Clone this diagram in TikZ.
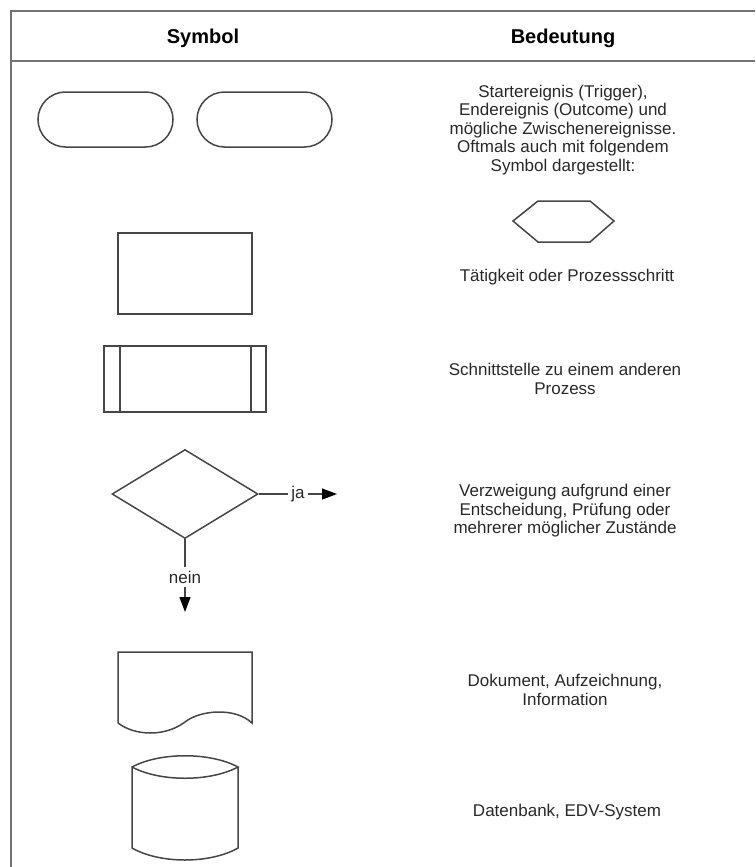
\documentclass[tikz,border=0pt]{standalone}
\usepackage{fontspec}
\setmainfont{Liberation Sans}
\usepackage{tikz}
\usetikzlibrary{arrows.meta,positioning,shapes.geometric,shapes.misc}
\definecolor{framegray}{RGB}{115,115,115}
\definecolor{shapegray}{RGB}{70,70,70}
\definecolor{txtgray}{RGB}{40,40,40}

\begin{document}
\begin{tikzpicture}[x=1pt, y=-1pt,
  every node/.style={font=\fontsize{17}{18.5}\selectfont, text=txtgray},
  sym/.style={draw=shapegray, line width=1.5pt, inner sep=0pt},
  desc/.style={align=center},
  head/.style={font=\bfseries\fontsize{20}{22}\selectfont, text=black},
  arr/.style={draw=shapegray, line width=1.3pt, -{Triangle[length=15pt,width=11pt,color=black]}}]
  \useasboundingbox (0,0) rectangle (755,867);
  \draw[framegray, line width=2pt] (755,11) -- (11,11) -- (11,867);
  \draw[framegray, line width=2pt] (11,61) -- (755,61);
  \node[head] (hsym) at (203,38) {Symbol};
  \node[head] (hbed) at (563,38) {Bedeutung};

  \foreach \cx [count=\i] in {105.5,264.5} {
    \node[sym, rounded rectangle, minimum width=135, minimum height=55] (term\i) at (\cx,119.5) {};
  }
  \draw[sym] (513,221) -- (538,201) -- (590,201) -- (614,221) -- (590,242) -- (538,242) -- cycle;
  \node[desc] (tevent) at (563,130) {Startereignis (Trigger),\\Endereignis (Outcome) und\\mögliche Zwischenereignisse.\\Oftmals auch mit folgendem\\Symbol dargestellt:};

  \node[sym, minimum width=134, minimum height=81] (task) at (185,273.5) {};
  \node[desc] (ttask) at (567,277) {Tätigkeit oder Prozessschritt};

  \node[sym, minimum width=162, minimum height=66] (iface) at (185,379) {};
  \draw[sym] ([xshift=16.5]iface.north west) -- ([xshift=16.5]iface.south west);
  \draw[sym] ([xshift=-16]iface.north east) -- ([xshift=-16]iface.south east);
  \node[desc] (tiface) at (565,379) {Schnittstelle zu einem anderen\\Prozess};

  \node[sym, diamond, minimum width=146, minimum height=89] (dec) at (185,494) {};
  \node (ja) at (298,494) {ja};
  \node (nein) at (185,577) {nein};
  \coordinate (jaend) at (337,494);
  \coordinate (neinend) at (185,612);
  \draw[sym] (dec.east) -- (ja.west);
  \draw[arr] (ja.east) -- (jaend);
  \draw[sym] (dec.south) -- (nein.north);
  \draw[arr] (nein.south) -- (neinend);
  \node[desc] (tdec) at (565,511) {Verzweigung aufgrund einer\\Entscheidung, Prüfung oder\\mehrerer möglicher Zustände};

  \draw[sym] (118,723) -- (118,652) -- (252,652) -- (252,723)
    .. controls (235,707) and (200,710) .. (185,722)
    .. controls (165,737) and (135,736) .. (118,723);
  \node[desc] (tdoc) at (565,690) {Dokument, Aufzeichnung,\\Information};

  \draw[sym] (132,767) .. controls (160,752) and (210,752) .. (238,767)
    .. controls (210,782) and (160,782) .. (132,767) -- (132,848)
    .. controls (160,864) and (210,864) .. (238,848) -- (238,767);
  \node[desc] (tdb) at (567,812) {Datenbank, EDV-System};
\end{tikzpicture}
\end{document}
